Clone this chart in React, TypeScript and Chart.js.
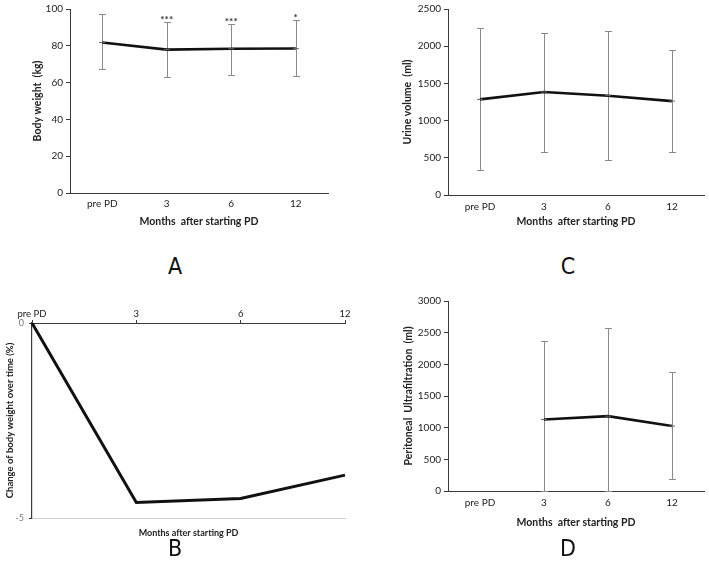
import React, { useEffect, useRef } from "react";
import { Chart, registerables } from "chart.js";

Chart.register(...registerables);

// ---------- data ----------
const months = ["pre PD", "3", "6", "12"];

const weightMean = [81.8, 77.9, 78.4, 78.5];
const weightLow = [67.2, 63.3, 64.3, 63.8];
const weightHigh = [97.2, 93.2, 92.1, 94.0];
const weightStars = ["", "***", "***", "*"];
const weightTicks = [0, 100, 20];

const urineMean = [1285, 1385, 1335, 1262];
const urineLow = [330, 576, 469, 576];
const urineHigh = [2251, 2181, 2207, 1945];
const urineTicks = [0, 2500, 500];

const changeMean = [0, -4.6, -4.5, -3.9];
const changeTicks = [-5, 0, 5];

const ufMean = [null, 1130, 1182, 1025];
const ufLow = [null, 0, 0, 189];
const ufHigh = [null, 2365, 2575, 1876];
const ufTicks = [0, 3000, 500];

const xTitle = "Months  after starting PD";

// ---------- style ----------
const FONT = "Lato, 'Open Sans', sans-serif";
const AXIS = "#3a3a3a";
const ERR = "#8a8a8a";

const plainNum = (v: any) => String(v);

const errorBarPlugin = {
  id: "errorBars",
  beforeDatasetsDraw(chart: any) {
    const ds: any = chart.data.datasets[0];
    if (!ds || !ds.errLow) return;
    const { ctx, scales } = chart;
    const x = scales.x;
    const y = scales.y;
    ctx.save();
    ctx.strokeStyle = ERR;
    ctx.lineWidth = 1;
    ds.errLow.forEach((lo: number | null, i: number) => {
      const hi = ds.errHigh[i];
      if (lo == null || hi == null) return;
      const px = Math.round(x.getPixelForValue(i)) + 0.5;
      const p1 = Math.round(y.getPixelForValue(lo)) + 0.5;
      const p2 = Math.round(y.getPixelForValue(hi)) + 0.5;
      ctx.beginPath();
      ctx.moveTo(px, p1);
      ctx.lineTo(px, p2);
      ctx.moveTo(px - 3.5, p1);
      ctx.lineTo(px + 3.5, p1);
      ctx.moveTo(px - 3.5, p2);
      ctx.lineTo(px + 3.5, p2);
      ctx.stroke();
    });
    if (ds.stars) {
      ctx.fillStyle = "#333";
      ctx.font = "bold 10px " + FONT;
      ctx.textAlign = "center";
      ctx.textBaseline = "alphabetic";
      ds.stars.forEach((s: string, i: number) => {
        if (!s) return;
        const px = x.getPixelForValue(i);
        const py = y.getPixelForValue(ds.errHigh[i]);
        ctx.fillText(s, px, py + 1);
      });
    }
    ctx.restore();
  },
};

type PanelProps = {
  left: number;
  top: number;
  width: number;
  height: number;
  make: () => any;
};

function Panel({ left, top, width, height, make }: PanelProps) {
  const ref = useRef<HTMLCanvasElement>(null);
  useEffect(() => {
    if (!ref.current) return;
    const chart = new Chart(ref.current, make());
    return () => chart.destroy();
  }, []);
  return (
    <canvas
      ref={ref}
      width={width}
      height={height}
      style={{ position: "absolute", left, top, width, height }}
    />
  );
}

function errorPanelConfig(opts: {
  mean: (number | null)[];
  low: (number | null)[];
  high: (number | null)[];
  stars?: string[];
  ticks: number[];
  yTitle: string;
  yWidth: number;
  yTitlePad: number;
  xHeight: number;
  pad: { top: number; right: number };
  xTickPad: number;
  xTitlePad: number;
}) {
  return {
    type: "line",
    data: {
      labels: months,
      datasets: [
        {
          data: opts.mean,
          errLow: opts.low,
          errHigh: opts.high,
          stars: opts.stars,
          borderColor: "#111",
          borderWidth: 2.6,
          pointStyle: "line",
          pointRadius: 3,
          pointBorderColor: "#666",
          pointBorderWidth: 1,
          tension: 0,
          spanGaps: false,
        },
      ],
    },
    options: {
      animation: false,
      responsive: false,
      devicePixelRatio: 1,
      layout: { padding: { left: 0, top: opts.pad.top, right: opts.pad.right, bottom: 0 } },
      plugins: { legend: { display: false }, tooltip: { enabled: false } },
      scales: {
        x: {
          type: "category",
          offset: true,
          grid: { display: false, drawTicks: false },
          border: { display: true, color: AXIS, width: 1 },
          ticks: { color: "#222", font: { family: FONT, size: 10 }, padding: opts.xTickPad, maxRotation: 0 },
          title: {
            display: true,
            text: xTitle,
            color: "#222",
            font: { family: FONT, size: 10.5, weight: "bold" },
            padding: { top: 0, bottom: opts.xTitlePad },
          },
          afterFit: (s: any) => {
            s.height = opts.xHeight;
          },
        },
        y: {
          min: opts.ticks[0],
          max: opts.ticks[1],
          grid: { drawOnChartArea: false, drawTicks: true, tickLength: 4, color: AXIS },
          border: { display: true, color: AXIS, width: 1 },
          ticks: {
            stepSize: opts.ticks[2],
            color: "#222",
            font: { family: FONT, size: 10 },
            padding: 3,
            callback: plainNum,
          },
          title: {
            display: true,
            text: opts.yTitle,
            color: "#222",
            font: { family: FONT, size: 10.5, weight: "bold" },
            padding: { top: opts.yTitlePad, bottom: 0 },
          },
          afterFit: (s: any) => {
            s.width = opts.yWidth;
          },
        },
      },
    },
    plugins: [errorBarPlugin],
  };
}

const makeA = () =>
  errorPanelConfig({
    mean: weightMean,
    low: weightLow,
    high: weightHigh,
    stars: weightStars,
    ticks: weightTicks,
    yTitle: "Body weight  (kg)",
    yWidth: 70,
    yTitlePad: 31,
    xHeight: 42,
    pad: { top: 6, right: 22 },
    xTickPad: 5,
    xTitlePad: 7,
  });

const makeC = () =>
  errorPanelConfig({
    mean: urineMean,
    low: urineLow,
    high: urineHigh,
    ticks: urineTicks,
    yTitle: "Urine volume  (ml)",
    yWidth: 88,
    yTitlePad: 41,
    xHeight: 40,
    pad: { top: 7, right: 5 },
    xTickPad: 6,
    xTitlePad: 7,
  });

const makeD = () =>
  errorPanelConfig({
    mean: ufMean,
    low: ufLow,
    high: ufHigh,
    ticks: ufTicks,
    yTitle: "Peritoneal  Ultrafiltration  (ml)",
    yWidth: 88,
    yTitlePad: 42,
    xHeight: 44,
    pad: { top: 11, right: 5 },
    xTickPad: 6,
    xTitlePad: 6,
  });

const makeB = () => ({
  type: "line",
  data: {
    labels: months,
    datasets: [
      {
        data: changeMean,
        borderColor: "#111",
        borderWidth: 3,
        pointRadius: 0,
        tension: 0,
        xAxisID: "x",
        yAxisID: "y",
      },
    ],
  },
  options: {
    animation: false,
    responsive: false,
    devicePixelRatio: 1,
    layout: { padding: { left: 0, top: 0, right: 15, bottom: 0 } },
    plugins: { legend: { display: false }, tooltip: { enabled: false } },
    scales: {
      x: {
        type: "category",
        position: "top",
        offset: false,
        grid: { drawOnChartArea: false, drawTicks: true, tickLength: 3, color: AXIS },
        border: { display: true, color: AXIS, width: 1 },
        ticks: { color: "#222", font: { family: FONT, size: 9.5 }, padding: 0, maxRotation: 0 },
        afterFit: (s: any) => {
          s.height = 28;
        },
      },
      x2: {
        type: "category",
        position: "bottom",
        offset: false,
        grid: { display: false, drawTicks: false },
        border: { display: true, color: "#d0d0d0", width: 1 },
        ticks: { display: false },
        title: {
          display: true,
          text: "Months after starting PD",
          color: "#222",
          font: { family: FONT, size: 9, weight: "bold" },
          padding: { top: 0, bottom: 2 },
        },
        afterFit: (s: any) => {
          s.height = 22;
        },
      },
      y: {
        min: changeTicks[0],
        max: changeTicks[1],
        grid: { drawOnChartArea: false, drawTicks: true, tickLength: 3, color: AXIS },
        border: { display: true, color: AXIS, width: 1.2 },
        ticks: {
          stepSize: changeTicks[2],
          color: "#777",
          font: { family: FONT, size: 9 },
          padding: 5,
          callback: plainNum,
        },
        title: {
          display: true,
          text: "Change of body weight over time (%)",
          color: "#222",
          font: { family: FONT, size: 9.5, weight: "bold" },
          padding: { top: 4, bottom: 0 },
        },
        afterFit: (s: any) => {
          s.width = 32;
        },
      },
    },
  },
});

const letterStyle = (left: number, top: number): React.CSSProperties => ({
  position: "absolute",
  left,
  top,
  transform: "translate(-50%, -50%)",
  fontFamily: "'Liberation Sans Narrow', 'DejaVu Sans Condensed', sans-serif",
  fontSize: 23,
  color: "#111",
  lineHeight: 1,
});

export default function App() {
  return (
    <div
      style={{
        position: "absolute",
        left: 0,
        top: 0,
        width: 709,
        height: 574,
        background: "#fff",
        overflow: "hidden",
      }}
    >
      <Panel left={0} top={0} width={350} height={235} make={makeA} />
      <Panel left={360} top={0} width={349} height={235} make={makeC} />
      <Panel left={0} top={295} width={360} height={245} make={makeB} />
      <Panel left={360} top={290} width={349} height={245} make={makeD} />
      <div style={letterStyle(175, 266)}>A</div>
      <div style={letterStyle(568, 266)}>C</div>
      <div style={letterStyle(175, 548)}>B</div>
      <div style={letterStyle(568, 548)}>D</div>
    </div>
  );
}
